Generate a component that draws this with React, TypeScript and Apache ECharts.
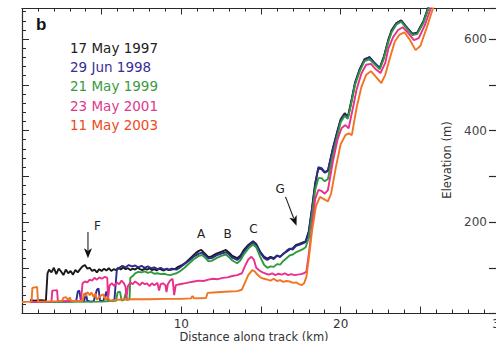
import React, { useEffect, useRef } from "react";
import * as echarts from "echarts";

const seriesNames = ["17 May 1997", "29 Jun 1998", "21 May 1999", "23 May 2001", "11 May 2003"];
const lineColors = ["#1a1a1a", "#2e2a90", "#2f9a3c", "#e8308c", "#f27420"];
const legendColors = ["#222222", "#3a2d9a", "#3a9a40", "#e0378e", "#ee4a22"];

const xTickLabels = [10, 20, 30];
const yTickLabels = [200, 400, 600];

const profile1997: [number, number][] = [
  [0.5, 29], [0.8, 28], [1.2, 29], [1.5, 28], [1.6, 88], [1.7, 96], [1.85, 90], [2.0, 100], [2.15, 86], [2.3, 98],
  [2.45, 92], [2.6, 84], [2.75, 96], [2.9, 88], [3.05, 93], [3.2, 85], [3.35, 95], [3.5, 90], [3.65, 97], [3.8, 103],
  [3.95, 106], [4.1, 98], [4.25, 100], [4.4, 93], [4.55, 96], [4.7, 90], [4.85, 97], [5.0, 93], [5.15, 98], [5.3, 94],
  [5.45, 99], [5.6, 93], [5.75, 97], [5.9, 95], [6.05, 100], [6.2, 96], [6.35, 101], [6.5, 97], [6.65, 99], [6.8, 95],
  [6.95, 98], [7.1, 96], [7.25, 100], [7.4, 97], [7.55, 95], [7.7, 98], [7.85, 96], [8.0, 99], [8.15, 95], [8.3, 97],
  [8.45, 94], [8.6, 98], [8.75, 96], [8.9, 94], [9.05, 97], [9.2, 95], [9.4, 98], [9.6, 97], [9.8, 102], [10.0, 105],
  [10.3, 112], [10.6, 122], [10.9, 132], [11.1, 137], [11.25, 139], [11.45, 132], [11.7, 123], [11.9, 125], [12.2, 131],
  [12.5, 135], [12.8, 139], [13.0, 133], [13.2, 126], [13.5, 121], [13.7, 126], [13.9, 138], [14.2, 150], [14.5, 158],
  [14.7, 152], [14.95, 135], [15.2, 124], [15.4, 120], [15.6, 124], [15.8, 121], [16.0, 127], [16.2, 124], [16.4, 131],
  [16.6, 135], [16.8, 140], [17.0, 143], [17.2, 150], [17.4, 152], [17.6, 155], [17.8, 158], [18.0, 180], [18.2, 230],
  [18.4, 285], [18.6, 318], [18.8, 316], [19.0, 308], [19.2, 312], [19.5, 360], [19.8, 400], [20.0, 425], [20.25, 438],
  [20.45, 430], [20.7, 470], [20.9, 505], [21.2, 535], [21.5, 556], [21.8, 560], [22.1, 548], [22.45, 536], [22.7, 560],
  [23.0, 600], [23.2, 620], [23.5, 635], [23.8, 641], [24.1, 628], [24.5, 612], [24.8, 614], [25.2, 640], [25.6, 680],
  [26.0, 720],
];

const profile1998: [number, number][] = [
  [0.5, 25], [3.0, 26], [3.4, 27], [3.5, 48], [3.6, 50], [3.7, 27], [3.9, 26], [4.0, 45], [4.1, 28], [4.3, 26],
  [4.5, 27], [4.7, 52], [4.8, 55], [4.9, 28], [5.1, 27], [5.3, 48], [5.4, 30], [5.6, 27], [5.8, 30], [5.95, 95],
  [6.1, 100], [6.3, 104], [6.5, 101], [6.7, 106], [6.9, 103], [7.1, 105], [7.3, 101], [7.5, 104], [7.7, 100], [7.9, 103],
  [8.1, 99], [8.3, 101], [8.5, 97], [8.7, 100], [8.9, 96], [9.1, 98], [9.3, 95], [9.5, 97], [9.7, 96], [9.9, 100],
  [10.2, 108], [10.5, 116], [10.8, 125], [11.1, 131], [11.3, 133], [11.5, 127], [11.7, 120], [11.9, 121], [12.2, 127],
  [12.5, 131], [12.8, 134], [13.0, 129], [13.2, 122], [13.5, 117], [13.7, 122], [13.9, 134], [14.2, 147], [14.5, 156],
  [14.7, 150], [14.95, 133], [15.2, 121], [15.4, 117], [15.6, 122], [15.8, 119], [16.0, 126], [16.2, 124], [16.4, 130],
  [16.6, 137], [16.8, 142], [17.0, 140], [17.2, 148], [17.4, 150], [17.6, 153], [17.8, 156], [18.0, 178], [18.2, 228],
  [18.4, 282], [18.6, 320], [18.8, 318], [19.0, 309], [19.2, 313], [19.5, 358], [19.8, 398], [20.0, 422], [20.25, 436],
  [20.45, 428], [20.7, 468], [20.9, 503], [21.2, 533], [21.5, 555], [21.8, 561], [22.1, 549], [22.45, 537], [22.7, 560],
  [23.0, 598], [23.2, 618], [23.5, 634], [23.8, 640], [24.1, 627], [24.5, 611], [24.8, 613], [25.2, 638], [25.6, 678],
  [26.0, 720],
];

const profile1999: [number, number][] = [
  [0.5, 25], [5.0, 26], [5.5, 27], [5.9, 28], [6.0, 46], [6.15, 48], [6.25, 28], [6.4, 30], [6.5, 44], [6.6, 29],
  [6.75, 32], [6.8, 78], [6.95, 82], [7.1, 88], [7.3, 91], [7.5, 90], [7.7, 92], [7.9, 89], [8.1, 91], [8.3, 87],
  [8.5, 88], [8.7, 86], [8.9, 87], [9.1, 85], [9.3, 84], [9.5, 86], [9.7, 88], [9.9, 92], [10.2, 100], [10.5, 110],
  [10.8, 119], [11.1, 126], [11.3, 128], [11.5, 122], [11.7, 114], [11.9, 115], [12.2, 121], [12.5, 126], [12.8, 129],
  [13.0, 123], [13.2, 116], [13.5, 110], [13.7, 116], [13.9, 128], [14.2, 142], [14.5, 151], [14.7, 145], [14.95, 124],
  [15.2, 106], [15.4, 100], [15.6, 103], [15.8, 102], [16.0, 108], [16.2, 107], [16.4, 115], [16.6, 121], [16.8, 127],
  [17.0, 129], [17.2, 134], [17.4, 137], [17.6, 140], [17.8, 145], [18.0, 165], [18.2, 215], [18.4, 270], [18.6, 296],
  [18.8, 296], [19.0, 289], [19.2, 294], [19.5, 345], [19.8, 390], [20.0, 418], [20.25, 432], [20.45, 426], [20.7, 465],
  [20.9, 500], [21.2, 530], [21.5, 552], [21.8, 556], [22.1, 546], [22.45, 534], [22.7, 556], [23.0, 595], [23.2, 615],
  [23.5, 632], [23.8, 638], [24.1, 625], [24.5, 609], [24.8, 611], [25.2, 636], [25.6, 676], [26.0, 718],
];

const profile2001: [number, number][] = [
  [0.5, 25], [1.85, 26], [1.9, 50], [2.2, 51], [2.25, 27], [3.7, 28], [3.8, 66], [3.95, 70], [4.1, 68], [4.25, 74],
  [4.4, 72], [4.55, 78], [4.7, 74], [4.85, 79], [5.0, 76], [5.2, 80], [5.35, 78], [5.4, 32], [5.5, 62], [5.65, 66],
  [5.8, 60], [5.95, 68], [6.1, 64], [6.25, 72], [6.4, 66], [6.5, 58], [6.55, 33], [6.65, 60], [6.8, 68], [6.95, 64],
  [7.1, 70], [7.25, 66], [7.4, 62], [7.55, 68], [7.7, 64], [7.85, 66], [8.0, 60], [8.15, 66], [8.3, 62], [8.5, 67],
  [8.6, 50], [8.7, 64], [8.85, 66], [9.0, 62], [9.07, 47], [9.15, 64], [9.3, 72], [9.45, 76], [9.55, 40], [9.65, 62],
  [9.9, 64], [10.2, 66], [10.5, 68], [10.8, 70], [11.1, 72], [11.4, 71], [11.7, 74], [12.0, 76], [12.3, 75], [12.6, 78],
  [12.9, 79], [13.2, 82], [13.5, 84], [13.8, 88], [14.0, 104], [14.2, 118], [14.4, 124], [14.55, 118], [14.7, 100],
  [14.9, 94], [15.1, 90], [15.3, 87], [15.5, 85], [15.7, 88], [15.9, 84], [16.1, 87], [16.3, 85], [16.5, 88], [16.7, 84],
  [16.9, 86], [17.1, 84], [17.3, 85], [17.5, 86], [17.7, 88], [17.85, 92], [18.0, 130], [18.2, 190], [18.4, 250],
  [18.6, 270], [18.8, 268], [19.0, 262], [19.2, 270], [19.5, 330], [19.8, 380], [20.05, 405], [20.3, 412], [20.5, 405],
  [20.8, 455], [21.0, 490], [21.3, 525], [21.6, 544], [21.9, 546], [22.2, 534], [22.5, 526], [22.8, 548], [23.0, 580],
  [23.3, 605], [23.6, 620], [23.9, 626], [24.2, 615], [24.6, 598], [24.9, 602], [25.3, 632], [25.7, 672], [26.1, 715],
];

const profile2003: [number, number][] = [
  [0, 25], [0.6, 26], [0.65, 56], [0.95, 58], [1.0, 26], [2.5, 27], [2.6, 34], [2.75, 36], [2.9, 30], [3.0, 35],
  [3.1, 27], [3.8, 28], [3.9, 44], [4.0, 38], [4.1, 47], [4.25, 40], [4.35, 46], [4.5, 36], [4.6, 44], [4.7, 30],
  [4.9, 38], [5.1, 42], [5.25, 30], [5.4, 35], [5.5, 28], [6.0, 30], [7.0, 31], [8.0, 31], [9.0, 32], [10.0, 32],
  [10.6, 33], [10.7, 38], [10.8, 33], [11.55, 34], [11.65, 45], [12.0, 46], [12.5, 47], [13.0, 48], [13.5, 49],
  [13.8, 52], [14.0, 68], [14.2, 84], [14.45, 95], [14.6, 92], [14.8, 84], [15.0, 78], [15.2, 76], [15.4, 74],
  [15.6, 72], [15.8, 76], [16.0, 71], [16.2, 73], [16.4, 69], [16.6, 71], [16.8, 70], [17.0, 67], [17.2, 68],
  [17.4, 64], [17.55, 62], [17.7, 66], [17.85, 80], [18.0, 120], [18.2, 180], [18.45, 235], [18.7, 255], [18.95, 250],
  [19.2, 245], [19.4, 262], [19.7, 320], [20.0, 370], [20.3, 390], [20.5, 394], [20.7, 390], [21.0, 450], [21.3, 495],
  [21.6, 522], [21.9, 530], [22.2, 518], [22.55, 504], [22.8, 522], [23.1, 560], [23.4, 595], [23.7, 610], [24.0, 615],
  [24.35, 598], [24.7, 576], [25.0, 585], [25.4, 625], [25.8, 668], [26.2, 710],
];

const profiles = [profile1997, profile1998, profile1999, profile2001, profile2003];

// annotation letters (data coordinates: km, m)
const annotationLabels = ["F", "A", "B", "C", "G"];
const annotationKm = [4.74, 11.24, 12.9, 14.53, 16.2];
const annotationElev = [191, 173, 173, 185, 272];
// arrows: from -> to (data coordinates)
const arrowFrom: [number, number][] = [[4.14, 178], [16.54, 255]];
const arrowTo: [number, number][] = [[4.14, 121], [17.23, 192]];

const FONT = "DejaVu Sans";

export default function App() {
  const ref = useRef<HTMLDivElement>(null);
  useEffect(() => {
    document.body.style.margin = "0";
    const chart = echarts.init(ref.current!, null, { renderer: "svg" });
    const axisColor = "#2a2a2a";
    chart.setOption({
      animation: false,
      backgroundColor: "#ffffff",
      grid: { left: 22, right: -4, top: 8.5, bottom: 27.5, containLabel: false, outerBoundsMode: "none" },
      xAxis: [
        {
          type: "value",
          position: "bottom",
          min: 0,
          max: 30,
          interval: 5,
          axisLine: { onZero: false, lineStyle: { color: axisColor, width: 1.2 } },
          axisTick: { inside: true, length: 7, lineStyle: { color: axisColor } },
          minorTick: { show: true, splitNumber: 5, length: 4, lineStyle: { color: axisColor } },
          splitLine: { show: false },
          axisLabel: {
            margin: 4,
            color: "#333",
            fontFamily: FONT,
            fontSize: 12,
            formatter: (v: number) => (xTickLabels.includes(v) ? String(v) : ""),
          },
        },
        {
          type: "value",
          position: "top",
          min: 0,
          max: 30,
          interval: 5,
          axisLine: { onZero: false, lineStyle: { color: axisColor, width: 1.2 } },
          axisTick: { inside: true, length: 6, lineStyle: { color: axisColor } },
          minorTick: { show: true, splitNumber: 5, length: 3, lineStyle: { color: axisColor } },
          splitLine: { show: false },
          axisLabel: { show: false },
        },
      ],
      yAxis: [
        {
          type: "value",
          position: "right",
          min: 0,
          max: 667,
          interval: 100,
          axisLine: { show: true, onZero: false, lineStyle: { color: axisColor, width: 1.2 } },
          axisTick: { inside: true, length: 11, lineStyle: { color: axisColor, width: 1.2 } },
          splitLine: { show: false },
          axisLabel: {
            inside: true,
            margin: 13,
            color: "#444",
            fontFamily: FONT,
            fontSize: 12,
            formatter: (v: number) => (yTickLabels.includes(v) ? String(v) : ""),
          },
        },
        {
          type: "value",
          position: "left",
          min: 0,
          max: 667,
          interval: 100,
          axisLine: { show: true, onZero: false, lineStyle: { color: axisColor, width: 1.2 } },
          axisTick: { inside: true, length: 7, lineStyle: { color: axisColor } },
          minorTick: { show: true, splitNumber: 5, length: 4, lineStyle: { color: axisColor } },
          splitLine: { show: false },
          axisLabel: { show: false },
        },
      ],
      series: profiles.map((data, i) => ({
        name: seriesNames[i],
        type: "line",
        xAxisIndex: 0,
        yAxisIndex: 0,
        data,
        showSymbol: false,
        symbol: "none",
        clip: true,
        lineStyle: { color: lineColors[i], width: 1.9 },
        itemStyle: { color: lineColors[i] },
        z: 2 + i,
      })),
    });

    const toPx = (p: [number, number]) => chart.convertToPixel({ seriesIndex: 0 }, p) as number[];
    const graphics: any[] = [];
    graphics.push({
      type: "text",
      x: 36,
      y: 24,
      style: { text: "b", font: `bold 17px "Liberation Sans", Arial, sans-serif`, fill: "#111", align: "left", verticalAlign: "middle", textAlign: "left", textVerticalAlign: "middle" },
    });
    seriesNames.forEach((name, i) => {
      graphics.push({
        type: "text",
        x: 70,
        y: 47.5 + i * 19.4,
        style: { text: name, font: `13.5px "${FONT}"`, fill: legendColors[i], align: "left", verticalAlign: "middle", textAlign: "left", textVerticalAlign: "middle" },
      });
    });
    annotationLabels.forEach((lab, i) => {
      const p = toPx([annotationKm[i], annotationElev[i]]);
      graphics.push({
        type: "text",
        x: p[0],
        y: p[1],
        style: { text: lab, font: `12px "${FONT}"`, fill: "#222", align: "center", verticalAlign: "middle", textAlign: "center", textVerticalAlign: "middle" },
      });
    });
    arrowFrom.forEach((f, i) => {
      const a = toPx(f);
      const b = toPx(arrowTo[i]);
      const dx = b[0] - a[0];
      const dy = b[1] - a[1];
      const len = Math.hypot(dx, dy);
      const ux = dx / len;
      const uy = dy / len;
      const headLen = 10;
      const headW = 4;
      const baseX = b[0] - ux * headLen;
      const baseY = b[1] - uy * headLen;
      graphics.push({
        type: "line",
        shape: { x1: a[0], y1: a[1], x2: baseX + ux * 2, y2: baseY + uy * 2 },
        style: { stroke: "#222", lineWidth: 1.1 },
      });
      graphics.push({
        type: "polygon",
        shape: {
          points: [
            [b[0], b[1]],
            [baseX - uy * headW, baseY + ux * headW],
            [baseX + ux * 2.5, baseY + uy * 2.5],
            [baseX + uy * headW, baseY - ux * headW],
          ],
        },
        style: { fill: "#111" },
      });
    });
    graphics.push({
      type: "text",
      x: 447,
      y: 160,
      rotation: Math.PI / 2,
      style: { text: "Elevation (m)", font: `11.5px "${FONT}"`, fill: "#333", align: "center", verticalAlign: "middle", textAlign: "center", textVerticalAlign: "middle" },
    });
    graphics.push({
      type: "text",
      x: 254,
      y: 342.5,
      style: { text: "Distance along track (km)", font: `11.5px "${FONT}"`, fill: "#333", align: "center", verticalAlign: "bottom", textAlign: "center", textVerticalAlign: "bottom" },
    });
    chart.setOption({ graphic: graphics });

    return () => chart.dispose();
  }, []);
  return <div ref={ref} style={{ width: 496, height: 341 }} />;
}
